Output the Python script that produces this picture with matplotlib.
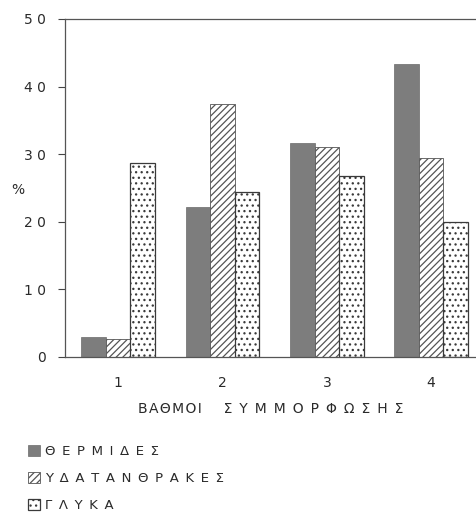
#Importing Libraries
import matplotlib.pyplot as plt
import numpy as np

#Data
grades = ["1", "2", "3", "4"]
thermides = [2.9, 22.2, 31.7, 43.3]
ydatanthrakes = [2.7, 37.5, 31.1, 29.4]
glyka = [28.7, 24.4, 26.8, 20.0]
y_ticks = [0, 10, 20, 30, 40, 50]
series_names = ["ΘΕΡΜΙΔΕΣ", "ΥΔΑΤΑΝΘΡΑΚΕΣ", "ΓΛΥΚΑ"]


def spaced(s, gap=" "):
    #letter spacing like the typewriter style labels
    return gap.join(s)


plt.rcParams['font.family'] = ['DejaVu Sans']
plt.rcParams['hatch.linewidth'] = 0.9
txt_color = '#2a2a2a'

fig = plt.figure(figsize=(4.76, 5.14), dpi=100)
ax = fig.add_axes([65/476, (514-357)/514, 1 - 65/476, (357-19)/514])

x = np.arange(1, len(grades) + 1)
w = 0.235

en = "\u2002"
b1 = ax.bar(x - w, thermides, w, color='#7d7d7d', edgecolor='#6a6a6a', linewidth=0.5,
            label=spaced(series_names[0], en))
b2 = ax.bar(x, ydatanthrakes, w, color='white', edgecolor='#555555', hatch='/////',
            linewidth=0.6, label=spaced(series_names[1], en))
b3 = ax.bar(x + w, glyka, w, color='white', edgecolor='#3a3a3a', hatch='...',
            linewidth=0.9, label=spaced(series_names[2], en))

ax.set_xlim(0.49, 4.43)
ax.set_ylim(0, 50)
ax.set_yticks(y_ticks)
ax.set_yticklabels([spaced(str(v)) for v in y_ticks], fontsize=10, color=txt_color)
ax.set_xticks(x)
ax.set_xticklabels(grades, fontsize=10, color=txt_color)
ax.tick_params(axis='x', length=0, pad=14)
ax.tick_params(axis='y', length=5, width=0.8, color='#444444', pad=9)

for side in ['left', 'top', 'bottom']:
    ax.spines[side].set_color('#555555')
    ax.spines[side].set_linewidth(0.9)
ax.spines['right'].set_visible(False)

ax.set_xlabel(spaced("ΒΑΘΜΟΙ", "\u200a") + "     " + spaced("ΣΥΜΜΟΡΦΩΣΗΣ", en),
              fontsize=10, color=txt_color, labelpad=8)
fig.text(18/476, 1 - 190/514, "%", fontsize=10, color=txt_color, ha='center', va='center')

#Legend below the axes on the left
fig.legend(handles=[b1, b2, b3], loc='upper left', bbox_to_anchor=(28/476, 1 - 445/514),
           frameon=False, fontsize=9.5, handlelength=0.9, handleheight=0.9,
           handletextpad=0.4, labelspacing=1.05, borderpad=0, borderaxespad=0,
           labelcolor=txt_color)

plt.savefig('out.png', dpi=100)
